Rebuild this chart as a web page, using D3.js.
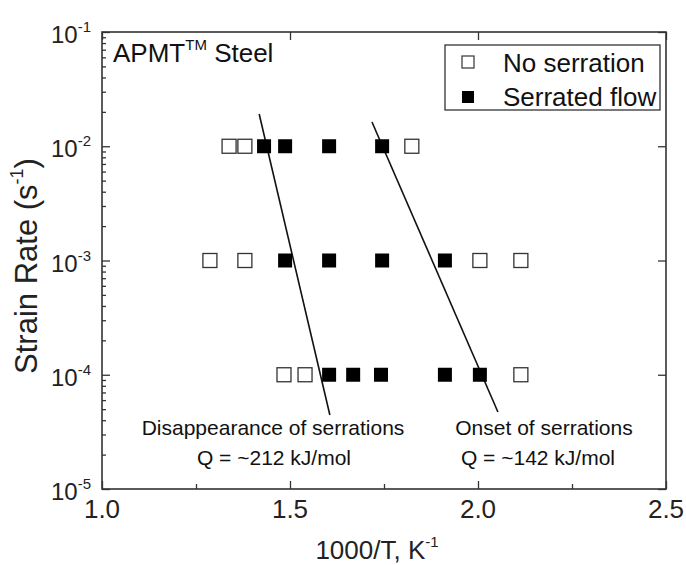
<!DOCTYPE html>
<html>
<head>
<meta charset="utf-8">
<script src="https://cdn.jsdelivr.net/npm/d3@7"></script>
<style>
  html, body { margin: 0; padding: 0; background: #fff; }
  svg { display: block; font-family: "Liberation Sans", Arial, sans-serif; }
</style>
</head>
<body>
<svg id="chart" width="686" height="565"></svg>
<script>
// Test results: 1000/T (K^-1) at which each strain rate was tested
const noSerration = [
  { x: 1.338, rate: 1e-2 }, { x: 1.380, rate: 1e-2 }, { x: 1.824, rate: 1e-2 },
  { x: 1.287, rate: 1e-3 }, { x: 1.380, rate: 1e-3 }, { x: 2.005, rate: 1e-3 }, { x: 2.114, rate: 1e-3 },
  { x: 1.484, rate: 1e-4 }, { x: 1.540, rate: 1e-4 }, { x: 2.114, rate: 1e-4 }
];
const serratedFlow = [
  { x: 1.431, rate: 1e-2 }, { x: 1.487, rate: 1e-2 }, { x: 1.604, rate: 1e-2 }, { x: 1.745, rate: 1e-2 },
  { x: 1.487, rate: 1e-3 }, { x: 1.604, rate: 1e-3 }, { x: 1.745, rate: 1e-3 }, { x: 1.912, rate: 1e-3 },
  { x: 1.604, rate: 1e-4 }, { x: 1.668, rate: 1e-4 }, { x: 1.742, rate: 1e-4 }, { x: 1.912, rate: 1e-4 }, { x: 2.005, rate: 1e-4 }
];
// Arrhenius boundary lines
const disappearanceLine = [ { x: 1.418, rate: Math.pow(10, -1.718) }, { x: 1.606, rate: Math.pow(10, -4.352) } ];
const onsetLine = [ { x: 1.718, rate: Math.pow(10, -1.788) }, { x: 2.053, rate: Math.pow(10, -4.326) } ];

const xTicks = [1.0, 1.5, 2.0, 2.5];
const xMinorTicks = [1.25, 1.75, 2.25];
const yExponents = [-1, -2, -3, -4, -5];

const margin = { left: 102, top: 32, right: 20, bottom: 76 };
const W = 686, H = 565;
const x0 = margin.left, x1 = W - margin.right, y0 = H - margin.bottom, y1 = margin.top;

const svg = d3.select("#chart");
const x = d3.scaleLinear().domain([1.0, 2.5]).range([x0, x1]);
const y = d3.scaleLog().domain([1e-5, 1e-1]).range([y0, y1]);

const axisColor = "#333";

// Minor log ticks on the left axis
const yMinor = [];
for (let e = -5; e < -1; e++) for (let m = 2; m <= 9; m++) yMinor.push(m * Math.pow(10, e));

function styleAxis(g) {
  g.select(".domain").remove();
  g.selectAll("line").attr("stroke", axisColor).attr("stroke-width", 1.3);
}

// bottom axis (ticks inward)
svg.append("g").attr("transform", `translate(0,${y0})`)
  .call(d3.axisBottom(x).tickValues(xTicks).tickSize(-8).tickFormat(""))
  .call(styleAxis);
svg.append("g").attr("transform", `translate(0,${y0})`)
  .call(d3.axisBottom(x).tickValues(xMinorTicks).tickSize(-5).tickFormat(""))
  .call(styleAxis);
// top axis
svg.append("g").attr("transform", `translate(0,${y1})`)
  .call(d3.axisTop(x).tickValues(xTicks).tickSize(-8).tickFormat(""))
  .call(styleAxis);
// left axis
svg.append("g").attr("transform", `translate(${x0},0)`)
  .call(d3.axisLeft(y).tickValues(yExponents.map(e => Math.pow(10, e))).tickSize(-8).tickFormat(""))
  .call(styleAxis);
svg.append("g").attr("transform", `translate(${x0},0)`)
  .call(d3.axisLeft(y).tickValues(yMinor).tickSize(-4).tickFormat(""))
  .call(styleAxis);
// right axis
svg.append("g").attr("transform", `translate(${x1},0)`)
  .call(d3.axisRight(y).tickValues(yExponents.map(e => Math.pow(10, e))).tickSize(-8).tickFormat(""))
  .call(styleAxis);

// frame
svg.append("rect").attr("x", x0).attr("y", y1).attr("width", x1 - x0).attr("height", y0 - y1)
  .attr("fill", "none").attr("stroke", axisColor).attr("stroke-width", 1.6);

// x tick labels
svg.append("g").selectAll("text").data(xTicks).join("text")
  .attr("x", d => x(d)).attr("y", y0 + 29)
  .attr("text-anchor", "middle").attr("font-size", 26).attr("fill", "#222")
  .text(d => d.toFixed(1));

// y tick labels: 10^n
const yl = svg.append("g").selectAll("text").data(yExponents).join("text")
  .attr("x", 91).attr("y", d => y(Math.pow(10, d)) + 11)
  .attr("text-anchor", "end").attr("font-size", 24).attr("fill", "#222");
yl.append("tspan").text("10");
yl.append("tspan").attr("font-size", 15).attr("dy", -11).text(d => String(d));

// axis titles
const xt = svg.append("text").attr("x", 377).attr("y", 559).attr("text-anchor", "middle")
  .attr("font-size", 26).attr("fill", "#222");
xt.append("tspan").text("1000/T, K");
xt.append("tspan").attr("font-size", 15).attr("dy", -12).text("-1");

const yt = svg.append("text").attr("transform", `translate(37,266) rotate(-90)`)
  .attr("text-anchor", "middle").attr("font-size", 31).attr("fill", "#222");
yt.append("tspan").text("Strain Rate (s");
yt.append("tspan").attr("font-size", 18).attr("dy", -14).text("-1");
yt.append("tspan").attr("dy", 14).text(")");

// boundary lines
const line = d3.line().x(d => x(d.x)).y(d => y(d.rate));
[disappearanceLine, onsetLine].forEach(pts => {
  svg.append("path").attr("d", line(pts)).attr("fill", "none")
    .attr("stroke", "#111").attr("stroke-width", 1.6);
});

// markers
const S = 14;
svg.append("g").selectAll("rect").data(noSerration).join("rect")
  .attr("x", d => x(d.x) - S / 2).attr("y", d => y(d.rate) - S / 2)
  .attr("width", S).attr("height", S)
  .attr("fill", "#fff").attr("stroke", "#333").attr("stroke-width", 1.3);
svg.append("g").selectAll("rect").data(serratedFlow).join("rect")
  .attr("x", d => x(d.x) - S / 2).attr("y", d => y(d.rate) - S / 2)
  .attr("width", S).attr("height", S)
  .attr("fill", "#000");

// material label
const mat = svg.append("text").attr("x", 113).attr("y", 62).attr("font-size", 26).attr("fill", "#111");
mat.append("tspan").text("APMT");
mat.append("tspan").attr("font-size", 15).attr("dy", -12).text("TM");
mat.append("tspan").attr("dy", 12).text(" Steel");

// annotations
const ann = [
  { cx: 273, lines: ["Disappearance of serrations", "Q = ~212 kJ/mol"], qx: 274 },
  { cx: 544, lines: ["Onset of serrations", "Q = ~142 kJ/mol"], qx: 538 }
];
ann.forEach(a => {
  svg.append("text").attr("x", a.cx).attr("y", 435)
    .attr("text-anchor", "middle").attr("font-size", 21).attr("fill", "#111").text(a.lines[0]);
  svg.append("text").attr("x", a.qx).attr("y", 465)
    .attr("text-anchor", "middle").attr("font-size", 21).attr("fill", "#111").text(a.lines[1]);
});

// legend
const lg = svg.append("g");
lg.append("rect").attr("x", 445).attr("y", 45).attr("width", 215).attr("height", 65)
  .attr("fill", "#fff").attr("stroke", axisColor).attr("stroke-width", 1.3);
const LS = 12;
lg.append("rect").attr("x", 468 - LS / 2).attr("y", 62 - LS / 2).attr("width", LS).attr("height", LS)
  .attr("fill", "#fff").attr("stroke", "#333").attr("stroke-width", 1.2);
lg.append("rect").attr("x", 468 - LS / 2).attr("y", 97 - LS / 2).attr("width", LS).attr("height", LS)
  .attr("fill", "#000");
lg.append("text").attr("x", 503).attr("y", 72).attr("font-size", 26).attr("fill", "#111").text("No serration");
lg.append("text").attr("x", 503).attr("y", 106).attr("font-size", 26).attr("fill", "#111").text("Serrated flow");
</script>
</body>
</html>
